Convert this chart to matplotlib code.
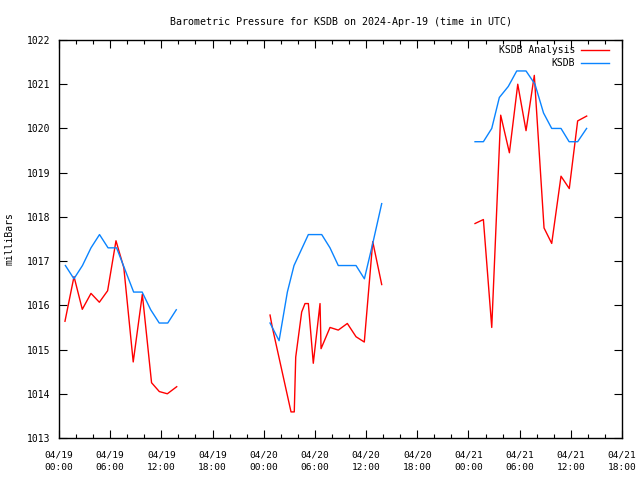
import numpy as np
import matplotlib
matplotlib.use('Agg')
import matplotlib.pyplot as plt
import matplotlib.ticker as mticker

# hours since 2024-04-19 00:00 UTC, NaN breaks the line between days
obs_hours = [0.75, 1.75, 2.75, 3.75, 4.75, 5.75, 6.75, 7.75, 8.75, 9.75, 10.75, 11.75, 12.75, 13.75, np.nan,
             24.74, 25.8, 26.77, 27.55, 29.23, 30.8, 31.77, 32.74, 34.82, 35.8, 36.78, 37.83, np.nan,
             48.77, 49.75, 50.73, 51.62, 52.67, 53.66, 54.75, 55.8, 56.8, 57.76, 58.85, 59.8, 60.8, 61.85]
obs_mb = [1016.9, 1016.6, 1016.9, 1017.3, 1017.6, 1017.3, 1017.3, 1016.8, 1016.3, 1016.3, 1015.9, 1015.6, 1015.6, 1015.9, np.nan,
          1015.6, 1015.2, 1016.3, 1016.9, 1017.6, 1017.6, 1017.3, 1016.9, 1016.9, 1016.6, 1017.4, 1018.3, np.nan,
          1019.7, 1019.7, 1020.0, 1020.7, 1020.95, 1021.3, 1021.3, 1021.0, 1020.35, 1020.0, 1020.0, 1019.7, 1019.7, 1020.0]

ana_hours = [0.7, 1.76, 2.73, 3.75, 4.73, 5.7, 6.68, 7.6, 8.7, 9.77, 10.85, 11.76, 12.7, 13.8, np.nan,
             24.74, 25.0, 27.2, 27.58, 27.75, 28.45, 28.84, 29.23, 29.81, 30.6, 30.72, 31.77, 32.74, 33.8,
             34.82, 35.79, 36.78, 37.83, np.nan,
             48.77, 49.75, 50.73, 51.78, 52.8, 53.78, 54.75, 55.72, 56.86, 57.76, 58.85, 59.82, 60.8, 61.86]
ana_mb = [1015.64, 1016.65, 1015.91, 1016.27, 1016.07, 1016.33, 1017.46, 1016.85, 1014.72, 1016.25, 1014.25, 1014.05, 1014.0, 1014.16, np.nan,
          1015.78, 1015.51, 1013.59, 1013.59, 1014.83, 1015.85, 1016.04, 1016.04, 1014.69, 1016.04, 1015.02, 1015.5, 1015.44, 1015.59,
          1015.29, 1015.17, 1017.44, 1016.47, np.nan,
          1017.85, 1017.94, 1015.5, 1020.3, 1019.45, 1021.0, 1019.95, 1021.2, 1017.75, 1017.4, 1018.92, 1018.64, 1020.17, 1020.28]

tick_hours = [0, 6, 12, 18, 24, 30, 36, 42, 48, 54, 60, 66]
tick_labels = ['04/19\n00:00', '04/19\n06:00', '04/19\n12:00', '04/19\n18:00',
               '04/20\n00:00', '04/20\n06:00', '04/20\n12:00', '04/20\n18:00',
               '04/21\n00:00', '04/21\n06:00', '04/21\n12:00', '04/21\n18:00']

plt.rcParams['font.family'] = 'DejaVu Sans Mono'
plt.rcParams['font.size'] = 7

fig = plt.figure(figsize=(6.4, 4.8), dpi=100)
ax = fig.add_axes([59 / 640, 1 - 438 / 480, 563 / 640, 398 / 480])

ax.plot(ana_hours, ana_mb, color='#ff0000', lw=1, label='KSDB Analysis')
ax.plot(obs_hours, obs_mb, color='#0a84ff', lw=1, label='KSDB')

ax.set_xlim(0, 66)
ax.set_ylim(1013, 1022)
ax.set_xticks(tick_hours)
ax.set_xticklabels(tick_labels, fontsize=6.8, linespacing=1.55)
ax.xaxis.set_minor_locator(mticker.MultipleLocator(2))
ax.yaxis.set_major_locator(mticker.MultipleLocator(1))
ax.tick_params(which='both', direction='in', top=True, right=True, width=0.8)
ax.tick_params(axis='y', labelsize=7, pad=6)
ax.tick_params(axis='x', which='major', pad=9)
ax.tick_params(which='major', length=6)
ax.tick_params(which='minor', length=3)
for s in ax.spines.values():
    s.set_linewidth(1)

ax.set_ylabel('milliBars', fontsize=7, va='center')
ax.yaxis.set_label_coords(-49 / 563, 0.5)
ax.set_title('Barometric Pressure for KSDB on 2024-Apr-19 (time in UTC)', fontsize=7.2, pad=11)

ax.legend(loc='upper right', bbox_to_anchor=(1 - 13 / 563, 1 - 5 / 398), frameon=False,
          markerfirst=False, handlelength=2.9, handletextpad=0.6, labelspacing=0.35,
          borderaxespad=0, borderpad=0, fontsize=7)

fig.savefig('out.png', dpi=100)
